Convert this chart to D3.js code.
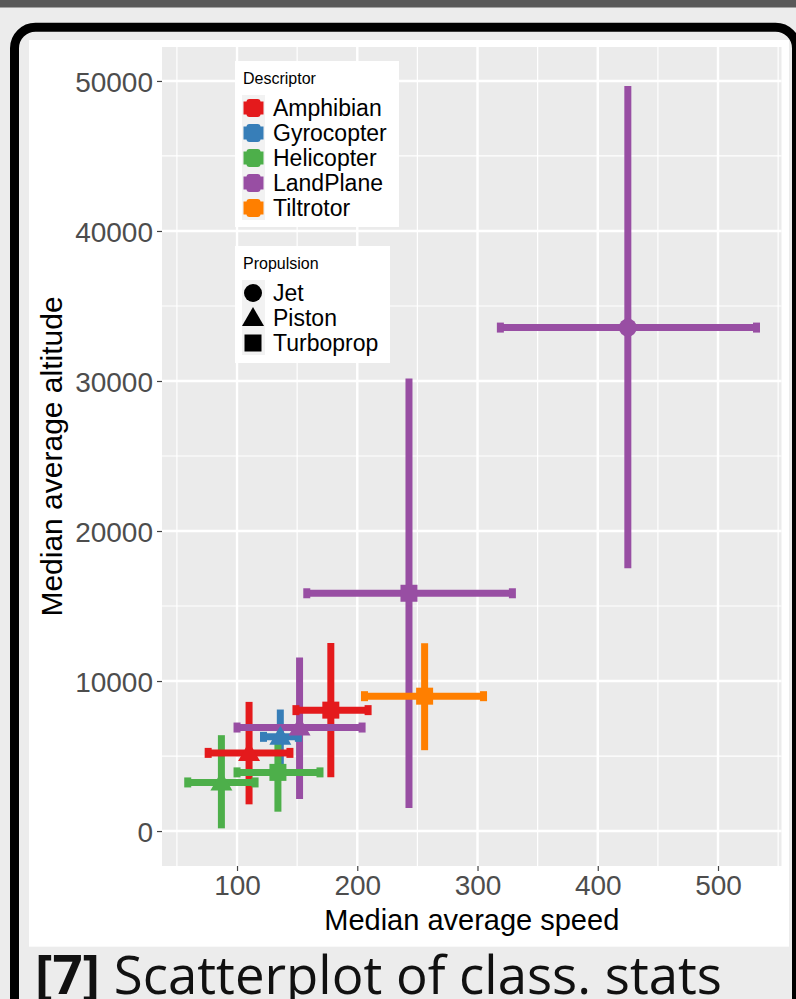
<!DOCTYPE html>
<html><head><meta charset="utf-8">
<script src="https://cdn.jsdelivr.net/npm/d3@7"></script>
<style>body{margin:0;background:#ececec;overflow:hidden} svg{display:block}</style>
</head><body>
<script>
const descriptors = ["Amphibian","Gyrocopter","Helicopter","LandPlane","Tiltrotor"];
const descColors = ["#E41A1C","#377EB8","#4DAF4A","#984EA3","#FF7F00"];
const propulsions = ["Jet","Piston","Turboprop"];
const groupDesc = ["Amphibian","Amphibian","Gyrocopter","Helicopter","Helicopter","LandPlane","LandPlane","LandPlane","Tiltrotor"];
const groupProp = ["Piston","Turboprop","Piston","Piston","Turboprop","Jet","Piston","Turboprop","Turboprop"];
const speedMed = [110, 178, 136, 87, 134, 425, 152, 243, 256];
const speedLo  = [76, 149, 122, 59, 100, 319, 100, 158, 206];
const speedHi  = [144, 209, 151, 115, 169, 532, 204, 329, 305];
const altMed = [5210, 8060, 6280, 3240, 3910, 33560, 6900, 15850, 8990];
const altLo  = [1780, 3580, 4390, 180, 1290, 17510, 2130, 1530, 5390];
const altHi  = [8610, 12540, 8100, 6390, 6060, 49670, 11570, 30160, 12520];
const xTicks = [100,200,300,400,500];
const yTicks = [0,10000,20000,30000,40000,50000];
const xMinor = [50,150,250,350,450,550];
const yMinor = [5000,15000,25000,35000,45000];

const data = groupDesc.map((d,i)=>({desc:d, prop:groupProp[i], s:speedMed[i], slo:speedLo[i], shi:speedHi[i], a:altMed[i], alo:altLo[i], ahi:altHi[i]}));

const W=796,H=999;
const svg = d3.select('body').append('svg').attr('width',W).attr('height',H);
svg.append('rect').attr('width',W).attr('height',H).attr('fill','#ececec');
svg.append('rect').attr('width',W).attr('height',7.5).attr('fill','#595959');
// frame
svg.append('rect').attr('x',14.5).attr('y',27.2).attr('width',782).attr('height',1100).attr('rx',21)
  .attr('fill','#ececec').attr('stroke','#000').attr('stroke-width',9);
svg.append('rect').attr('x',29).attr('y',40).attr('width',760).attr('height',906.7).attr('fill','#ffffff');

const pL=162,pR=781.5,pT=47,pB=866;
const x = d3.scaleLinear().domain([37.6,552.8]).range([pL,pR]);
const y = d3.scaleLinear().domain([-2330,52264]).range([pB,pT]);
const color = d3.scaleOrdinal().domain(descriptors).range(descColors);

svg.append('rect').attr('x',pL).attr('y',pT).attr('width',pR-pL).attr('height',pB-pT).attr('fill','#ebebeb');
const grid = svg.append('g');
grid.selectAll('.xm').data(xMinor).join('line').attr('x1',d=>x(d)).attr('x2',d=>x(d)).attr('y1',pT).attr('y2',pB).attr('stroke','#fff').attr('stroke-width',1.2);
grid.selectAll('.ym').data(yMinor).join('line').attr('y1',d=>y(d)).attr('y2',d=>y(d)).attr('x1',pL).attr('x2',pR).attr('stroke','#fff').attr('stroke-width',1.2);
grid.selectAll('.xM').data(xTicks).join('line').attr('x1',d=>x(d)).attr('x2',d=>x(d)).attr('y1',pT).attr('y2',pB).attr('stroke','#fff').attr('stroke-width',2.4);
grid.selectAll('.yM').data(yTicks).join('line').attr('y1',d=>y(d)).attr('y2',d=>y(d)).attr('x1',pL).attr('x2',pR).attr('stroke','#fff').attr('stroke-width',2.4);

// axes
const font='Liberation Sans, Arial, sans-serif';
const xAxis = d3.axisBottom(x).tickValues(xTicks).tickSize(5).tickPadding(4).tickFormat(d3.format('d'));
const gx = svg.append('g').attr('transform',`translate(0,${pB})`).call(xAxis);
gx.select('.domain').remove();
gx.selectAll('line').attr('stroke','#444').attr('stroke-width',1.2);
gx.selectAll('text').attr('fill','#4d4d4d').attr('font-size',28).attr('font-family',font).attr('dy','0.72em');
const yAxis = d3.axisLeft(y).tickValues(yTicks).tickSize(5).tickPadding(4).tickFormat(d3.format('d'));
const gy = svg.append('g').attr('transform',`translate(${pL},0)`).call(yAxis);
gy.select('.domain').remove();
gy.selectAll('line').attr('stroke','#444').attr('stroke-width',1.2);
gy.selectAll('text').attr('fill','#4d4d4d').attr('font-size',28).attr('font-family',font).attr('dy','0.36em');

svg.append('text').attr('x',(pL+pR)/2).attr('y',930).attr('text-anchor','middle').attr('font-size',29)
  .attr('font-family',font).attr('fill','#000').text('Median average speed');
svg.append('text').attr('transform',`translate(62,${(pT+pB)/2}) rotate(-90)`).attr('text-anchor','middle').attr('font-size',30)
  .attr('font-family',font).attr('fill','#000').text('Median average altitude');

// error bars
const lw=7;
const marks = svg.append('g');
marks.selectAll('.ev').data(data).join('line').attr('x1',d=>x(d.s)).attr('x2',d=>x(d.s)).attr('y1',d=>y(d.alo)).attr('y2',d=>y(d.ahi))
  .attr('stroke',d=>color(d.desc)).attr('stroke-width',lw);
const eh = marks.selectAll('.eh').data(data).join('g');
eh.append('line').attr('x1',d=>x(d.slo)).attr('x2',d=>x(d.shi)).attr('y1',d=>y(d.a)).attr('y2',d=>y(d.a)).attr('stroke',d=>color(d.desc)).attr('stroke-width',lw);
eh.append('line').attr('x1',d=>x(d.slo)).attr('x2',d=>x(d.slo)).attr('y1',d=>y(d.a)-5).attr('y2',d=>y(d.a)+5).attr('stroke',d=>color(d.desc)).attr('stroke-width',lw);
eh.append('line').attr('x1',d=>x(d.shi)).attr('x2',d=>x(d.shi)).attr('y1',d=>y(d.a)-5).attr('y2',d=>y(d.a)+5).attr('stroke',d=>color(d.desc)).attr('stroke-width',lw);

function shapePath(p){
  if(p==='Jet') return d3.symbol(d3.symbolCircle, Math.PI*9*9)();
  if(p==='Piston') return 'M0,-11L11,8L-11,8Z';
  return 'M-8.5,-8.5H8.5V8.5H-8.5Z';
}
marks.selectAll('.pt').data(data).join('path').attr('d',d=>shapePath(d.prop))
  .attr('transform',d=>`translate(${x(d.s)},${y(d.a)})`).attr('fill',d=>color(d.desc));

// legends
const L1 = svg.append('g');
L1.append('rect').attr('x',235).attr('y',61).attr('width',164).attr('height',166).attr('fill','#fff');
L1.append('text').attr('x',243).attr('y',84).attr('font-size',16).attr('font-family',font).text('Descriptor');
L1.append('rect').attr('x',242).attr('y',95).attr('width',23).attr('height',125).attr('fill','#f2f2f2');
const e1 = L1.selectAll('.k').data(descriptors).join('g').attr('transform',(d,i)=>`translate(0,${108+i*25})`);
e1.append('rect').attr('x',243.5).attr('y',-6.5).attr('width',20).attr('height',13).attr('fill',d=>color(d));
e1.append('rect').attr('x',246.5).attr('y',-9).attr('width',14).attr('height',18).attr('rx',3).attr('fill',d=>color(d));
e1.append('text').attr('x',273).attr('y',8).attr('font-size',23).attr('font-family',font).text(d=>d);

const L2 = svg.append('g');
L2.append('rect').attr('x',235).attr('y',246).attr('width',155).attr('height',117).attr('fill','#fff');
L2.append('text').attr('x',243).attr('y',269).attr('font-size',16).attr('font-family',font).text('Propulsion');
L2.append('rect').attr('x',242).attr('y',280).attr('width',23).attr('height',75).attr('fill','#f2f2f2');
const e2 = L2.selectAll('.k').data(propulsions).join('g').attr('transform',(d,i)=>`translate(0,${293+i*25})`);
e2.append('path').attr('d',d=>shapePath(d)).attr('transform','translate(253,0)').attr('fill','#000');
e2.append('text').attr('x',273).attr('y',8).attr('font-size',23).attr('font-family',font).text(d=>d);

// caption
const cap = svg.append('text').attr('x',35).attr('y',994).attr('font-size',53).attr('font-family','Open Sans, Noto Sans, sans-serif')
  .attr('fill','#111').attr('textLength',687).attr('lengthAdjust','spacingAndGlyphs');
cap.append('tspan').attr('font-weight','bold').text('[7]');
cap.append('tspan').text(' Scatterplot of class. stats');
</script>
</body></html>
